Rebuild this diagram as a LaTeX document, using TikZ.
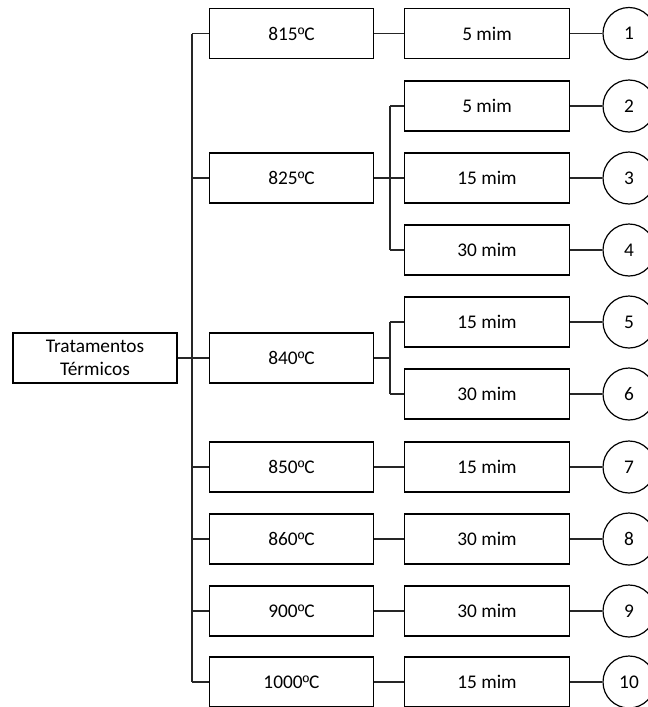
\documentclass[tikz,border=0pt]{standalone}
\usepackage{fontspec}
\setmainfont{Carlito}
\newfontfamily\ordfont{Liberation Sans}
\newcommand{\myord}{{\ordfont\fontsize{13.5}{17}\selectfont º}}
\begin{document}
\begin{tikzpicture}[x=0.75pt,y=-0.75pt,
  box/.style={draw=black, line width=0.9pt, minimum width=123.5pt, minimum height=37.5pt, inner sep=0pt, align=center, font=\fontsize{14.5}{17}\selectfont, fill=white},
  num/.style={draw=black, line width=0.9pt, circle, minimum size=39pt, inner sep=0pt, font=\fontsize{14.5}{17}\selectfont, fill=white},
  link/.style={draw=black!85, line width=1pt},
  trunk/.style={draw=black!85, line width=1.3pt}]
\useasboundingbox (0,0) rectangle (648,707);
\clip (0,0) rectangle (648,707);
% root
\node[box, minimum width=123pt] (root) at (95,358) {Tratamentos\\Térmicos};
% temperatures
\node[box] (t815) at (291.5,33.5) {815\myord C};
\node[box] (t825) at (291.5,178) {825\myord C};
\node[box] (t840) at (291.5,358) {840\myord C};
\node[box] (t850) at (291.5,467) {850\myord C};
\node[box] (t860) at (291.5,539) {860\myord C};
\node[box] (t900) at (291.5,611) {900\myord C};
\node[box] (t1000) at (291.5,682) {1000\myord C};
% times
\node[box] (m1) at (487,33.5) {5 mim};
\node[box] (m2) at (487,106) {5 mim};
\node[box] (m3) at (487,178) {15 mim};
\node[box] (m4) at (487,250) {30 mim};
\node[box] (m5) at (487,322) {15 mim};
\node[box] (m6) at (487,394) {30 mim};
\node[box] (m7) at (487,467) {15 mim};
\node[box] (m8) at (487,539) {30 mim};
\node[box] (m9) at (487,611) {30 mim};
\node[box] (m10) at (487,682) {15 mim};
% circles
\node[num] (c1) at (629,33.5) {1};
\node[num] (c2) at (629,106) {2};
\node[num] (c3) at (629,178) {3};
\node[num] (c4) at (629,250) {4};
\node[num] (c5) at (629,322) {5};
\node[num] (c6) at (629,394) {6};
\node[num] (c7) at (629,467) {7};
\node[num] (c8) at (629,539) {8};
\node[num] (c9) at (629,611) {9};
\node[num] (c10) at (629,682) {10};
% trunk
\coordinate (ttop) at (192,33.5);
\coordinate (tbot) at (192,682);
\draw[trunk] (ttop) -- (tbot);
\draw[trunk] (root.east) -- (root.east -| ttop);
\foreach \t in {t815,t825,t840,t850,t860,t900,t1000}
  \draw[link] (\t.west) -- (\t.west -| ttop);
% direct links
\draw[link] (t815.east) -- (m1.west);
\draw[link] (t850.east) -- (m7.west);
\draw[link] (t860.east) -- (m8.west);
\draw[link] (t900.east) -- (m9.west);
\draw[link] (t1000.east) -- (m10.west);
% sub-branches
\coordinate (j825) at (390,178);
\draw[trunk] (t825.east) -- (j825);
\draw[link] (j825 |- m2.west) -- (j825 |- m4.west);
\foreach \m in {m2,m3,m4}
  \draw[link] (\m.west) -- (\m.west -| j825);
\coordinate (j840) at (390,358);
\draw[trunk] (t840.east) -- (j840);
\draw[link] (j840 |- m5.west) -- (j840 |- m6.west);
\foreach \m in {m5,m6}
  \draw[link] (\m.west) -- (\m.west -| j840);
% circles links
\foreach \i in {1,...,10}
  \draw[link] (m\i.east) -- (c\i.west);
\end{tikzpicture}
\end{document}
